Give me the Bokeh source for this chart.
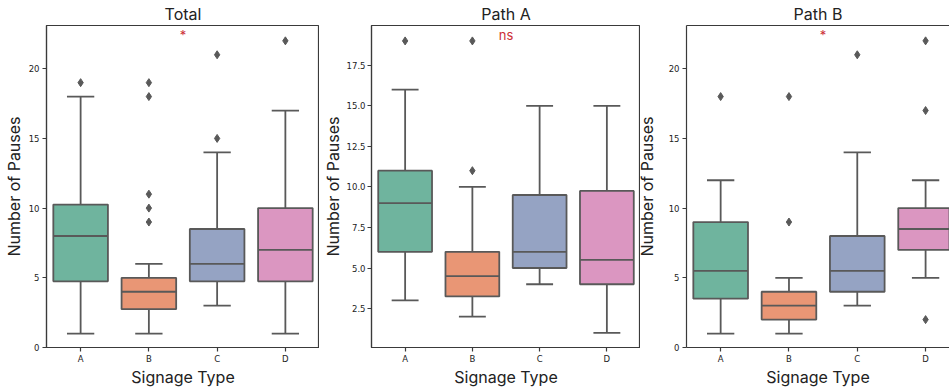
from bokeh.plotting import figure
from bokeh.layouts import row
from bokeh.models import Range1d, FixedTicker, LinearAxis, ColumnDataSource, Label, NumeralTickFormatter
from bokeh.embed import file_html
from bokeh.resources import INLINE

# ---------------- data ----------------
categories = ["A", "B", "C", "D"]
titles = ["Total", "Path A", "Path B"]
sig_labels = ["*", "ns", "*"]

total_q1 = [4.75, 2.75, 4.75, 4.75]
total_med = [8, 4, 6, 7]
total_q3 = [10.25, 5, 8.5, 10]
total_lo = [1, 1, 3, 1]
total_hi = [18, 6, 14, 17]
total_out_cat = ["A", "B", "B", "B", "B", "B", "C", "C", "D"]
total_out_val = [19, 19, 18, 11, 10, 9, 21, 15, 22]

pathA_q1 = [6, 3.25, 5, 4]
pathA_med = [9, 4.5, 6, 5.5]
pathA_q3 = [11, 6, 9.5, 9.75]
pathA_lo = [3, 2, 4, 1]
pathA_hi = [16, 10, 15, 15]
pathA_out_cat = ["A", "B", "B"]
pathA_out_val = [19, 19, 11]

pathB_q1 = [3.5, 2, 4, 7]
pathB_med = [5.5, 3, 5.5, 8.5]
pathB_q3 = [9, 4, 8, 10]
pathB_lo = [1, 1, 3, 5]
pathB_hi = [12, 5, 14, 12]
pathB_out_cat = ["A", "B", "B", "C", "D", "D", "D"]
pathB_out_val = [18, 18, 9, 21, 22, 17, 2]

int_ticks = [0, 5, 10, 15, 20]
dec_ticks = [2.5, 5.0, 7.5, 10.0, 12.5, 15.0, 17.5]

# ---------------- style ----------------
colors = ["#6fb49e", "#e99675", "#95a3c3", "#db96c1"]
gray = "#595959"
spine = "#3a3a3a"
text_col = "#222222"
sig_col = "#cc3036"
label_font = "Inter"
tick_font = "DejaVu Sans"


def make_panel(title, q1, med, q3, lo, hi, out_cat, out_val, sig,
               y_range, ticks, fmt, frame_w, x_end, mb_left,
               ylab_standoff, tick_standoff, open_right=False):
    p = figure(frame_width=frame_w, frame_height=322,
               x_range=Range1d(-0.5, x_end), y_range=Range1d(*y_range),
               output_backend="svg", toolbar_location=None,
               min_border_left=mb_left, min_border_right=0,
               min_border_top=0, min_border_bottom=0,
               background_fill_color="white", border_fill_color="white")
    p.grid.visible = False
    p.title.text = title
    p.title.align = "center"
    p.title.text_font = label_font
    p.title.text_font_size = "16px"
    p.title.text_font_style = "normal"
    p.title.text_color = text_col
    p.title.standoff = 3

    xs = list(range(len(categories)))
    idx = {c: i for i, c in enumerate(categories)}
    src = ColumnDataSource(dict(x=xs, q1=q1, med=med, q3=q3, lo=lo, hi=hi, color=colors,
                                xl=[x - 0.4 for x in xs], xr=[x + 0.4 for x in xs],
                                cl=[x - 0.2 for x in xs], cr=[x + 0.2 for x in xs]))
    lw = 1.8
    p.segment(x0="x", y0="q3", x1="x", y1="hi", source=src, line_color=gray, line_width=lw)
    p.segment(x0="x", y0="q1", x1="x", y1="lo", source=src, line_color=gray, line_width=lw)
    p.segment(x0="cl", y0="hi", x1="cr", y1="hi", source=src, line_color=gray, line_width=lw)
    p.segment(x0="cl", y0="lo", x1="cr", y1="lo", source=src, line_color=gray, line_width=lw)
    p.vbar(x="x", width=0.8, top="q3", bottom="q1", source=src, fill_color="color",
           line_color=gray, line_width=lw)
    p.segment(x0="xl", y0="med", x1="xr", y1="med", source=src, line_color=gray, line_width=lw)
    p.scatter(x=[idx[c] for c in out_cat], y=out_val, marker="diamond", size=8,
              fill_color=gray, line_color=gray)

    p.add_layout(Label(x=1.5, y=y_range[1], y_offset=-9, text=sig, text_align="center",
                       text_baseline="middle", text_color=sig_col, text_font_size="13px",
                       text_font=label_font))

    # axes
    p.xaxis.ticker = FixedTicker(ticks=xs)
    p.xaxis.major_label_overrides = {i: c for i, c in enumerate(categories)}
    p.yaxis.ticker = FixedTicker(ticks=ticks)
    if fmt:
        p.yaxis.formatter = NumeralTickFormatter(format=fmt)
    for ax in (p.xaxis[0], p.yaxis[0]):
        ax.minor_tick_line_color = None
        ax.major_tick_in = 0
        ax.major_tick_out = 4
        ax.major_tick_line_color = spine
        ax.major_tick_line_width = 1.2
        ax.axis_line_color = spine
        ax.axis_line_width = 1.2
        ax.major_label_text_font = tick_font
        ax.major_label_text_font_size = "8.5px"
        ax.major_label_text_color = text_col
        ax.axis_label_text_font = label_font
        ax.axis_label_text_font_size = "16px"
        ax.axis_label_text_font_style = "normal"
        ax.axis_label_text_color = text_col
    p.xaxis.axis_label = "Signage Type"
    p.xaxis.axis_label_standoff = 0
    p.xaxis.major_label_standoff = 2
    p.yaxis.axis_label = "Number of Pauses"
    p.yaxis.axis_label_standoff = ylab_standoff
    p.yaxis.major_label_standoff = tick_standoff

    if open_right:
        p.outline_line_color = None
        top = LinearAxis(ticker=FixedTicker(ticks=[]), major_label_text_font_size="0px",
                         major_tick_line_color=None, minor_tick_line_color=None,
                         axis_line_color=spine, axis_line_width=1.2)
        p.add_layout(top, "above")
    else:
        p.outline_line_color = spine
        p.outline_line_width = 1.2
        p.outline_line_alpha = 1.0
    return p


p1 = make_panel(titles[0], total_q1, total_med, total_q3, total_lo, total_hi,
                total_out_cat, total_out_val, sig_labels[0], (0, 23.1), int_ticks, None,
                273, 3.5, 37, 2, 3)
p2 = make_panel(titles[1], pathA_q1, pathA_med, pathA_q3, pathA_lo, pathA_hi,
                pathA_out_cat, pathA_out_val, sig_labels[1], (0.1, 19.95), dec_ticks, "0.0",
                269, 3.5, 45, 1, 2)
p3 = make_panel(titles[2], pathB_q1, pathB_med, pathB_q3, pathB_lo, pathB_hi,
                pathB_out_cat, pathB_out_val, sig_labels[2], (0, 23.1), int_ticks, None,
                263, 3.35, 40, 9, 3, open_right=True)
p3.border_fill_alpha = 0.0
p3.margin = (0, 0, 0, -7)

layout = row(p1, p2, p3, spacing=0)
open("out.html", "w").write(file_html(layout, INLINE))
